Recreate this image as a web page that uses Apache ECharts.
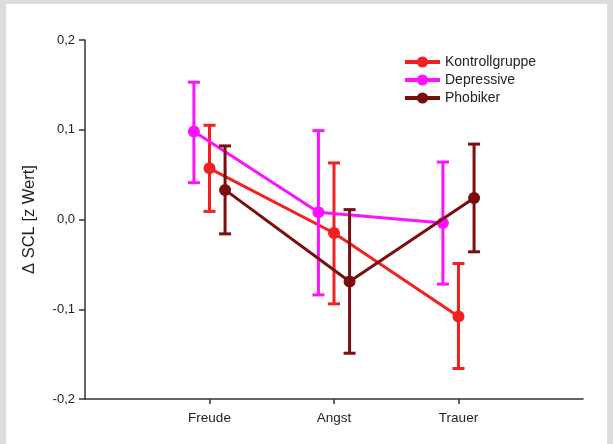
<!DOCTYPE html>
<html>
<head>
<meta charset="utf-8">
<script src="https://cdn.jsdelivr.net/npm/echarts@6/dist/echarts.min.js"></script>
<style>
html,body{margin:0;padding:0;background:#dcdcdc;}
#c{width:613px;height:444px;}
</style>
</head>
<body>
<div id="c"></div>
<script>
// Data
var categories = ['Freude', 'Angst', 'Trauer'];
var seriesNames = ['Kontrollgruppe', 'Depressive', 'Phobiker'];
var kontrollMean = [0.057, -0.015, -0.108];
var kontrollLow  = [0.009, -0.094, -0.166];
var kontrollHigh = [0.105, 0.063, -0.049];
var depressiveMean = [0.098, 0.008, -0.004];
var depressiveLow  = [0.041, -0.084, -0.072];
var depressiveHigh = [0.153, 0.099, 0.064];
var phobikerMean = [0.033, -0.069, 0.024];
var phobikerLow  = [-0.016, -0.149, -0.036];
var phobikerHigh = [0.082, 0.011, 0.084];
var yTicks = [-0.2, -0.1, 0.0, 0.1, 0.2];

var colors = ['#f22020', '#ff10ff', '#7a0d0d'];
var offsets = [0, -0.125, 0.125];
var groups = [
  [kontrollMean, kontrollLow, kontrollHigh],
  [depressiveMean, depressiveLow, depressiveHigh],
  [phobikerMean, phobikerLow, phobikerHigh]
];

var chart = echarts.init(document.getElementById('c'), null, {renderer: 'canvas'});

function fmt(v) {
  if (Math.abs(v) < 1e-9) v = 0;
  return v.toFixed(1).replace('.', ',');
}

var series = [];
groups.forEach(function (g, si) {
  var lineData = g[0].map(function (m, i) { return [i + 1 + offsets[si], m]; });
  var errData = g[0].map(function (m, i) { return [i + 1 + offsets[si], g[1][i], g[2][i]]; });
  series.push({
    name: seriesNames[si],
    type: 'line',
    data: lineData,
    z: 3 + si * 2,
    symbol: 'circle',
    symbolSize: 12,
    showSymbol: true,
    lineStyle: {color: colors[si], width: 3},
    itemStyle: {color: colors[si]},
    animation: false
  });
  series.push({
    name: seriesNames[si],
    type: 'custom',
    data: errData,
    z: 2 + si * 2,
    silent: true,
    itemStyle: {color: colors[si]},
    renderItem: function (params, api) {
      var x = api.value(0);
      var lo = api.coord([x, api.value(1)]);
      var hi = api.coord([x, api.value(2)]);
      var w = 6;
      var st = {stroke: colors[si], lineWidth: 3, fill: null};
      return {
        type: 'group',
        children: [
          {type: 'line', shape: {x1: lo[0], y1: lo[1], x2: hi[0], y2: hi[1]}, style: st},
          {type: 'line', shape: {x1: lo[0] - w, y1: lo[1], x2: lo[0] + w, y2: lo[1]}, style: st},
          {type: 'line', shape: {x1: hi[0] - w, y1: hi[1], x2: hi[0] + w, y2: hi[1]}, style: st}
        ]
      };
    }
  });
});

var option = {
  animation: false,
  backgroundColor: '#dcdcdc',
  graphic: [{
    type: 'rect', left: 6, top: 4, z: -10,
    shape: {width: 601, height: 440},
    style: {fill: '#ffffff'}
  }],
  grid: {left: 85, top: 40, width: 498, height: 359, containLabel: false},
  legend: {
    data: seriesNames,
    orient: 'vertical',
    left: 403,
    top: 55,
    padding: 0,
    itemWidth: 35,
    itemHeight: 14,
    itemGap: 4,
    lineStyle: {width: 4},
    textStyle: {fontFamily: 'Liberation Sans, Arial, sans-serif', fontSize: 14, color: '#222'}
  },
  xAxis: {
    type: 'value',
    min: 0,
    max: 4,
    interval: 1,
    splitLine: {show: false},
    axisLine: {show: true, onZero: false, lineStyle: {color: '#333', width: 1.5}},
    axisTick: {show: true, length: 5, customValues: [1, 2, 3], lineStyle: {color: '#333', width: 1.5}},
    axisLabel: {
      customValues: [1, 2, 3],
      margin: 12,
      fontFamily: 'Liberation Sans, Arial, sans-serif',
      fontSize: 13.5,
      color: '#222',
      formatter: function (v) { return categories[Math.round(v) - 1] || ''; }
    }
  },
  yAxis: {
    type: 'value',
    min: yTicks[0],
    max: yTicks[yTicks.length - 1],
    interval: 0.1,
    name: 'Δ SCL [z Wert]',
    nameLocation: 'middle',
    nameGap: 47,
    nameTextStyle: {fontFamily: 'Liberation Sans, Arial, sans-serif', fontSize: 16.5, color: '#222'},
    splitLine: {show: false},
    axisLine: {show: true, onZero: false, lineStyle: {color: '#333', width: 1.5}},
    axisTick: {show: true, length: 6, lineStyle: {color: '#333', width: 1.5}},
    axisLabel: {
      margin: 10,
      fontFamily: 'Liberation Sans, Arial, sans-serif',
      fontSize: 13,
      color: '#222',
      formatter: fmt
    }
  },
  series: series
};
chart.setOption(option);
</script>
</body>
</html>
